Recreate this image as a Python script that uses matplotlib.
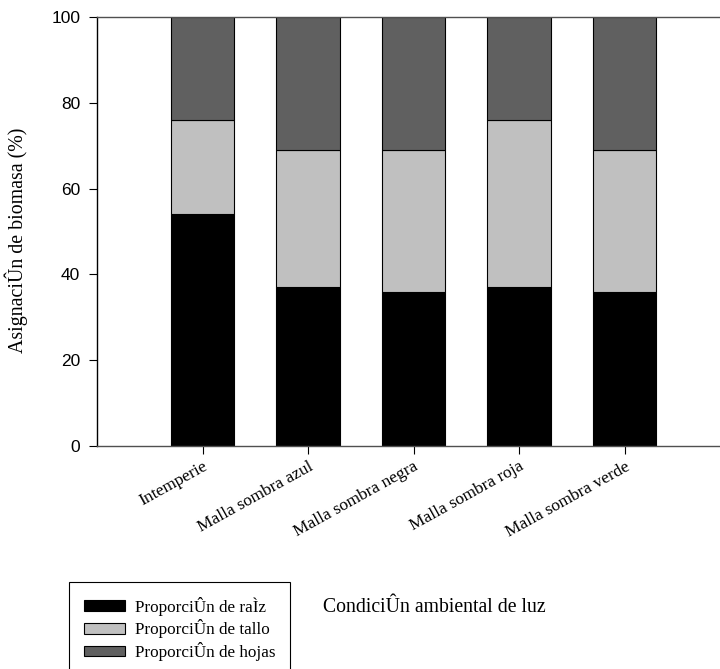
import numpy as np
import matplotlib.pyplot as plt
from matplotlib.patches import Patch

categories = ['Intemperie', 'Malla sombra azul', 'Malla sombra negra', 'Malla sombra roja', 'Malla sombra verde']
raiz = [54, 37, 36, 37, 36]
tallo = [22, 32, 33, 39, 33]
hojas = [24, 31, 31, 24, 31]
series_labels = ['ProporciÛn de raÌz', 'ProporciÛn de tallo', 'ProporciÛn de hojas']
colors = ['#000000', '#c0c0c0', '#606060']

serif = ['Liberation Serif', 'DejaVu Serif']
sans = ['Liberation Sans', 'DejaVu Sans']

fig = plt.figure(figsize=(7.2, 6.69), dpi=100)
ax = fig.add_axes([97/720, 223/669, 633/720, 429/669])

x = np.arange(1, len(categories) + 1)
bottom = np.zeros(len(categories))
for vals, c in zip([raiz, tallo, hojas], colors):
    ax.bar(x, vals, width=0.6, bottom=bottom, color=c, edgecolor='black', linewidth=0.8)
    bottom += np.array(vals)

ax.set_xlim(0, 6)
ax.set_ylim(0, 100)
ax.set_yticks([0, 20, 40, 60, 80, 100])
ax.set_xticks(x)
ax.set_xticklabels(categories, rotation=29, ha='right', rotation_mode='anchor',
                   family=serif, fontsize=12.5)
for lab in ax.get_yticklabels():
    lab.set_family(sans)
    lab.set_fontsize(12.5)
ax.tick_params(axis='both', direction='out', length=6, width=0.8)
ax.tick_params(axis='y', pad=6)
ax.tick_params(axis='x', pad=3)

ax.spines['right'].set_visible(False)
ax.spines['left'].set_color('black')
ax.spines['top'].set_color('#505050')
ax.spines['bottom'].set_color('#505050')
for s in ['left', 'top', 'bottom']:
    ax.spines[s].set_linewidth(1.0)

ax.set_ylabel('AsignaciÛn de biomasa (%)', family=serif, fontsize=14.3, va='center')
ax.yaxis.set_label_coords(-0.128, 0.48)

fig.text(434/720, 1 - 607/669, 'CondiciÛn ambiental de luz', family=serif,
         fontsize=14.2, ha='center', va='center')

handles = [Patch(facecolor=c, edgecolor='black', linewidth=0.8) for c in colors]
leg = fig.legend(handles, series_labels, loc='upper left',
                 bbox_to_anchor=(69/720, 1 - 582/669), prop={'family': serif, 'size': 12.3},
                 frameon=True, fancybox=False, edgecolor='black', framealpha=1,
                 handlelength=2.4, handleheight=0.6, handletextpad=0.6,
                 labelspacing=0.22, borderpad=0.85, borderaxespad=0)
leg.get_frame().set_linewidth(0.8)

fig.savefig('out.png', dpi=100)
